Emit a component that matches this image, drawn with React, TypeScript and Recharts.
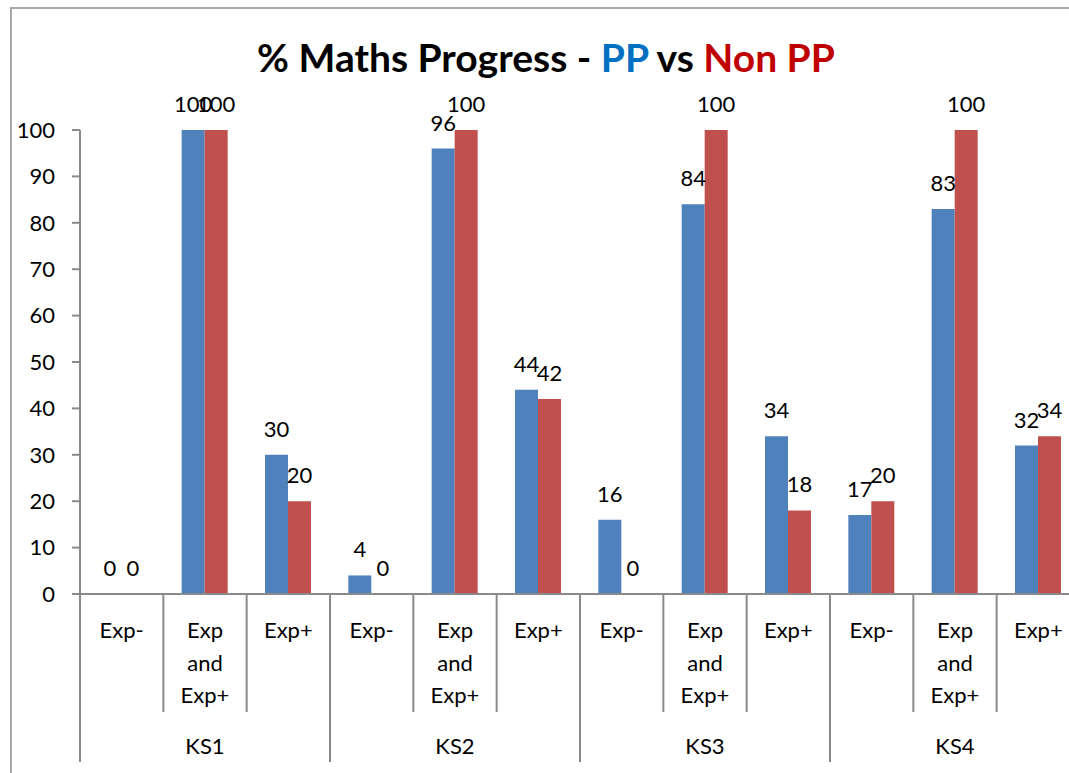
import React from "react";
import { BarChart, Bar, XAxis, YAxis, LabelList } from "recharts";

const categories = ["Exp-", "Exp and Exp+", "Exp+"];
const groups = ["KS1", "KS2", "KS3", "KS4"];
const ppValues = [0, 100, 30, 4, 96, 44, 16, 84, 34, 17, 83, 32];
const nonPpValues = [0, 100, 20, 0, 100, 42, 0, 100, 18, 20, 100, 34];
const yTicks = [0, 10, 20, 30, 40, 50, 60, 70, 80, 90, 100];

const data = ppValues.map((v, i) => ({
  cat: categories[i % categories.length],
  group: groups[Math.floor(i / categories.length)],
  pp: v,
  nonpp: nonPpValues[i],
}));

const FONT = "Lato, 'Open Sans', sans-serif";
const FS = 22;
const AXIS = "#8a8a8a";
const CHART_W = 1100;
const PLOT_LEFT = 80;
const PLOT_RIGHT_MARGIN = 20;
const BAND_HALF = (CHART_W - PLOT_LEFT - PLOT_RIGHT_MARGIN) / data.length / 2;

const CatTick = (props: any) => {
  const { x, y, payload } = props;
  const i: number = payload?.index ?? props.index ?? 0;
  const off: number = typeof payload?.offset === "number" && payload.offset > 0 ? payload.offset : BAND_HALF;
  const row = data[i];
  const words = String(row.cat).split(" ");
  const left = x - off;
  const groupStart = i % categories.length === 0;
  const groupMid = i % categories.length === 1;
  const isLast = i === data.length - 1;
  return (
    <g>
      <line x1={left} y1={y} x2={left} y2={y + (groupStart ? 168 : 118)} stroke={AXIS} strokeWidth={2} />
      {isLast && (
        <line x1={x + off} y1={y} x2={x + off} y2={y + 168} stroke={AXIS} strokeWidth={2} />
      )}
      {words.map((w, k) => (
        <text key={k} x={x} y={y + 44 + k * 32.5} textAnchor="middle" fill="#000" fontSize={FS} fontFamily={FONT}>
          {w}
        </text>
      ))}
      {groupMid && (
        <text x={x} y={y + 160} textAnchor="middle" fill="#000" fontSize={FS} fontFamily={FONT}>
          {row.group}
        </text>
      )}
    </g>
  );
};

export default function App() {
  return (
    <div
      style={{
        position: "fixed",
        left: 0,
        top: 0,
        width: 1069,
        height: 773,
        overflow: "hidden",
        background: "#fff",
        fontFamily: FONT,
      }}
    >
      <div
        style={{
          position: "absolute",
          left: 10,
          top: 7,
          width: 2000,
          height: 2000,
          borderLeft: "2px solid #a8a8a8",
          borderTop: "2px solid #a8a8a8",
        }}
      />
      <div
        style={{
          position: "absolute",
          left: 146,
          top: 34,
          width: 800,
          textAlign: "center",
          fontSize: 39,
          fontWeight: 700,
          lineHeight: "46px",
          color: "#000",
          whiteSpace: "nowrap",
        }}
      >
        % Maths Progress - <span style={{ color: "#0070C0" }}>PP</span> vs{" "}
        <span style={{ color: "#C00000" }}>Non PP</span>
      </div>
      <div style={{ position: "absolute", left: 0, top: 0 }}>
        <BarChart
          width={CHART_W}
          height={800}
          data={data}
          margin={{ top: 130, right: PLOT_RIGHT_MARGIN, bottom: 26, left: 0 }}
          barCategoryGap="22%"
          barGap={0}
        >
          <XAxis
            dataKey="cat"
            height={180}
            interval={0}
            tickSize={0}
            tickMargin={0}
            tickLine={false}
            axisLine={{ stroke: AXIS, strokeWidth: 2 }}
            tick={<CatTick />}
          />
          <YAxis
            width={PLOT_LEFT}
            domain={[0, 100]}
            ticks={yTicks}
            interval={0}
            tickSize={8}
            tickMargin={17}
            axisLine={{ stroke: AXIS, strokeWidth: 2 }}
            tickLine={{ stroke: AXIS, strokeWidth: 2 }}
            tick={{ fill: "#000", fontSize: FS, fontFamily: FONT }}
          />
          <Bar dataKey="pp" fill="#4F81BD" minPointSize={0.01} isAnimationActive={false}>
            <LabelList dataKey="pp" position="top" offset={18} fill="#000" fontSize={FS} fontFamily={FONT} />
          </Bar>
          <Bar dataKey="nonpp" fill="#C0504D" minPointSize={0.01} isAnimationActive={false}>
            <LabelList dataKey="nonpp" position="top" offset={18} fill="#000" fontSize={FS} fontFamily={FONT} />
          </Bar>
        </BarChart>
      </div>
    </div>
  );
}
